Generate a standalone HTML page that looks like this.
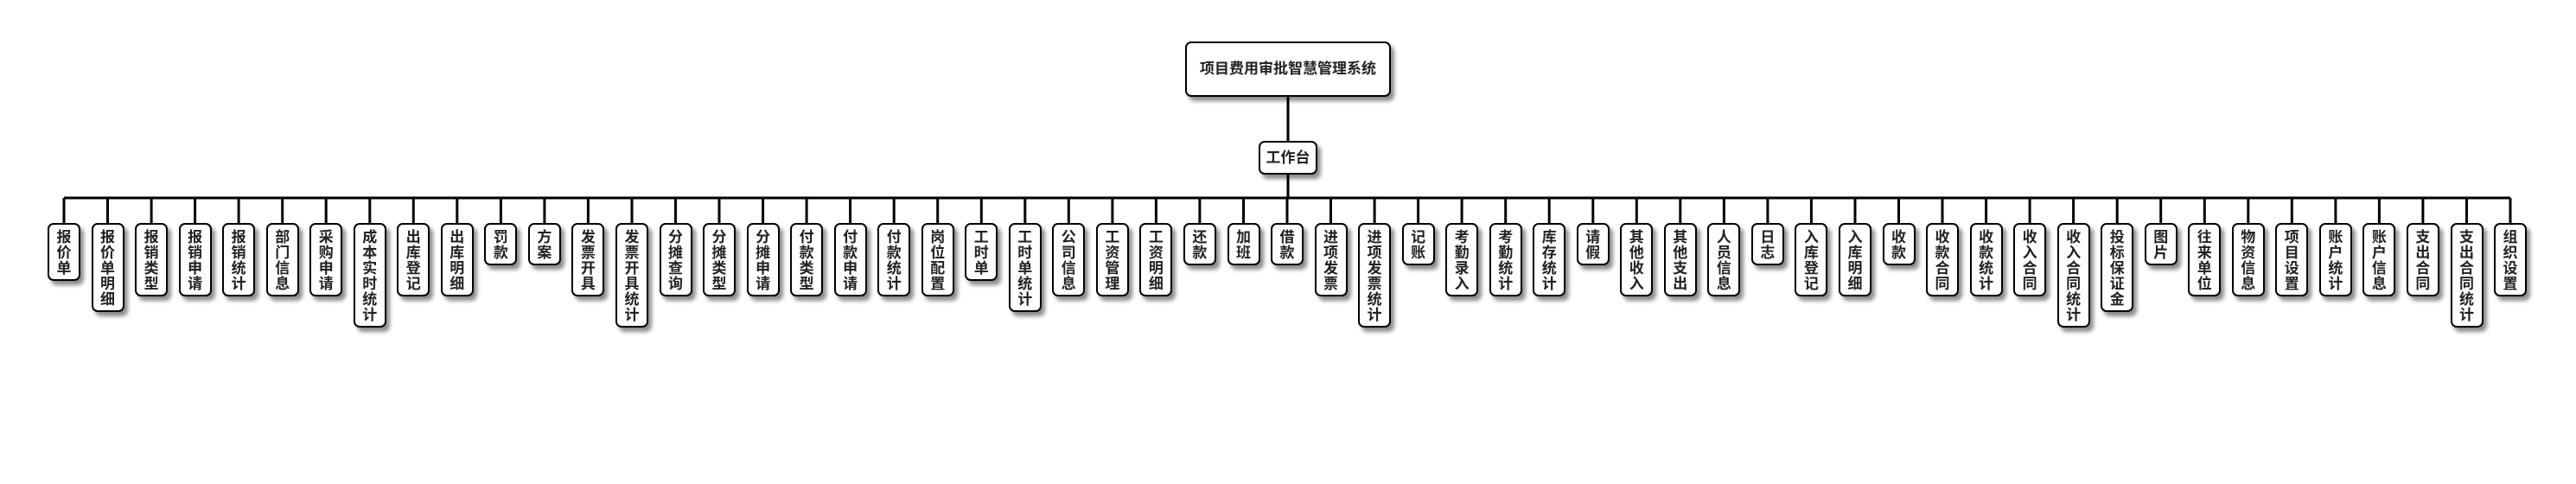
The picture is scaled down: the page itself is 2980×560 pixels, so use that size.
<!DOCTYPE html>
<html><head><meta charset="utf-8"><style>
body{margin:0;width:2980px;height:560px;background:#fff;position:relative;overflow:hidden;font-family:"Liberation Sans","Noto Sans CJK SC",sans-serif;}
.n{position:absolute;box-sizing:border-box;border:2px solid #000;border-radius:7px;background:#fff;box-shadow:4px 5px 5px rgba(0,0,0,0.45);color:#222;font-weight:bold;text-align:center;}
.c{width:38px;top:258px;font-size:17px;line-height:18px;padding-top:6px;}
</style></head><body>
<svg width="2980" height="560" style="position:absolute;left:0;top:0">
<g stroke="#000" stroke-width="3" fill="none" id="lines">
<line x1="1490" y1="112" x2="1490" y2="163"/>
<line x1="1490" y1="202" x2="1490" y2="229"/>
<line x1="74" y1="229" x2="2904" y2="229"/>
</g></svg>
<div class="n" style="left:1371px;top:48px;width:238px;height:64px;line-height:60px;font-size:17px;">项目费用审批智慧管理系统</div>
<div class="n" style="left:1456px;top:163px;width:68px;height:39px;line-height:35px;font-size:17px;">工作台</div>
<div id="kids"></div>
<script>
var t="报价单,报价单明细,报销类型,报销申请,报销统计,部门信息,采购申请,成本实时统计,出库登记,出库明细,罚款,方案,发票开具,发票开具统计,分摊查询,分摊类型,分摊申请,付款类型,付款申请,付款统计,岗位配置,工时单,工时单统计,公司信息,工资管理,工资明细,还款,加班,借款,进项发票,进项发票统计,记账,考勤录入,考勤统计,库存统计,请假,其他收入,其他支出,人员信息,日志,入库登记,入库明细,收款,收款合同,收款统计,收入合同,收入合同统计,投标保证金,图片,往来单位,物资信息,项目设置,账户统计,账户信息,支出合同,支出合同统计,组织设置".split(",");
var h="",g="";
for(var i=0;i<t.length;i++){var cx=74+i*(2904-74)/56;var s=t[i];
h+='<div class="n c" style="left:'+(cx-19).toFixed(1)+'px;height:'+(18*s.length+13)+'px">'+s.split("").join("<br>")+'</div>';
g+='<line x1="'+cx.toFixed(1)+'" y1="229" x2="'+cx.toFixed(1)+'" y2="258"/>';}
document.getElementById("kids").innerHTML=h;
document.getElementById("lines").innerHTML+=g;
</script>
</body></html>
